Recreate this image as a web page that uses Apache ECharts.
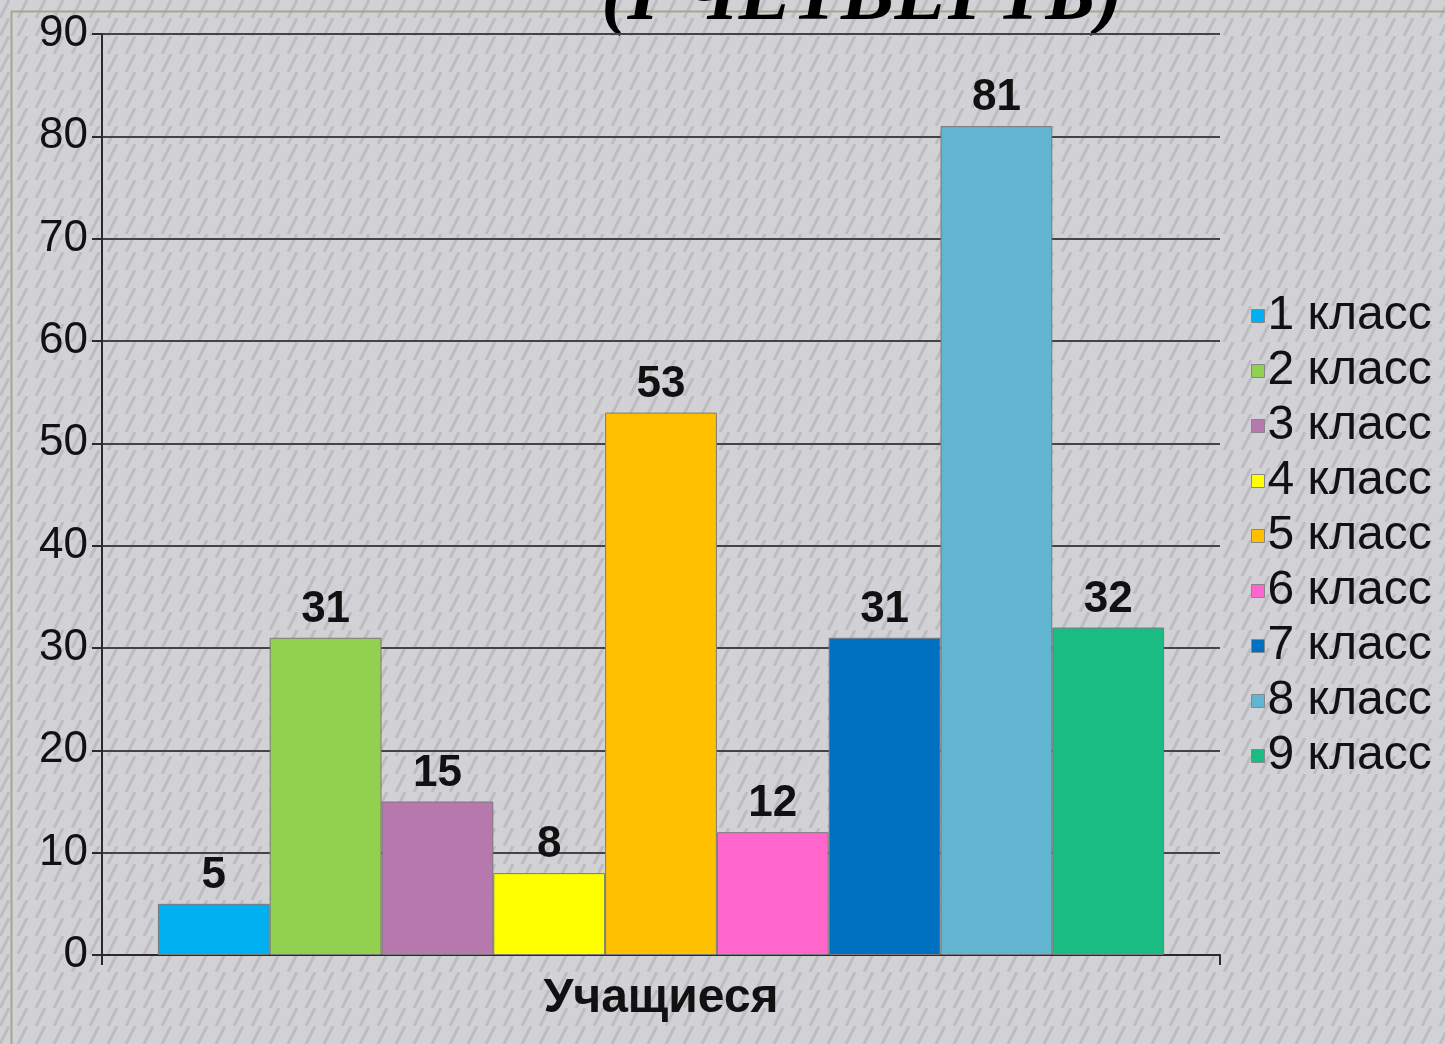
<!DOCTYPE html>
<html>
<head>
<meta charset="utf-8">
<title>Учащиеся</title>
<script src="https://cdn.jsdelivr.net/npm/echarts@6/dist/echarts.min.js"></script>
<style>
  html, body { margin: 0; padding: 0; }
  #chart { width: 1445px; height: 1044px; }
</style>
</head>
<body>
<div id="chart"></div>
<script>
var categories = ['Учащиеся'];
var classNames = ['1 класс', '2 класс', '3 класс', '4 класс', '5 класс', '6 класс', '7 класс', '8 класс', '9 класс'];
var classValues = [5, 31, 15, 8, 53, 12, 31, 81, 32];
var classColors = ['#00b0f0', '#92d050', '#b678ad', '#ffff00', '#ffc000', '#ff66cc', '#0070c0', '#62b5d0', '#1abc84'];
var yTicks = { min: 0, max: 90, interval: 10 };

// striped grey background
function stripes() {
  var c = document.createElement('canvas');
  c.width = 18; c.height = 18;
  var ctx = c.getContext('2d');
  ctx.fillStyle = '#d2d2d6';
  ctx.fillRect(0, 0, 18, 18);
  ctx.strokeStyle = '#bdbdc1';
  ctx.lineWidth = 3;
  for (var k = -18; k <= 36; k += 18) {
    ctx.beginPath();
    ctx.moveTo(k, 18);
    ctx.lineTo(k + 9, 0);
    ctx.stroke();
  }
  return c;
}

var series = classNames.map(function (name, i) {
  return {
    name: name,
    type: 'bar',
    barGap: 0,
    barCategoryGap: '10%',
    itemStyle: { color: classColors[i], borderColor: '#7a7a7a', borderWidth: 1 },
    label: {
      show: true, position: 'top', distance: 6,
      fontFamily: 'Liberation Sans', fontSize: 44, fontWeight: 'bold', color: '#111'
    },
    data: [classValues[i]]
  };
});

var chart = echarts.init(document.getElementById('chart'));
chart.setOption({
  backgroundColor: { image: stripes(), repeat: 'repeat' },
  animation: false,
  grid: { left: 102, right: 225, top: 34, bottom: 89 },
  legend: {
    orient: 'vertical', left: 1246, top: 287,
    itemWidth: 13, itemHeight: 13, itemGap: 7,
    icon: 'rect',
    itemStyle: { borderColor: '#888', borderWidth: 1 },
    textStyle: { fontFamily: 'Liberation Sans', fontSize: 48, color: '#111', padding: [0, 0, 0, -2] },
    data: classNames
  },
  xAxis: {
    type: 'category',
    data: categories,
    axisLine: { lineStyle: { color: '#2a2a2a', width: 2 } },
    axisTick: { show: true, length: 10, lineStyle: { color: '#2a2a2a', width: 2 } },
    axisLabel: { margin: 20, fontFamily: 'Liberation Sans', fontSize: 48, fontWeight: 'bold', color: '#111' }
  },
  yAxis: {
    type: 'value',
    min: yTicks.min, max: yTicks.max, interval: yTicks.interval,
    axisLine: { show: true, lineStyle: { color: '#2a2a2a', width: 2 } },
    axisTick: { show: true, length: 10, lineStyle: { color: '#2a2a2a', width: 2 } },
    axisLabel: { margin: 14, fontFamily: 'Liberation Sans', fontSize: 44, color: '#111' },
    splitLine: { lineStyle: { color: '#444', width: 2 } }
  },
  graphic: [{
    type: 'rect', left: 9, top: 9, z: -1,
    shape: { width: 1450, height: 1050 },
    style: { fill: 'none', stroke: '#aaa48c', lineWidth: 2 }
  }, {
    type: 'text', x: 862, y: -2,
    style: {
      text: '(I ЧЕТВЕРТЬ)',
      align: 'center', verticalAlign: 'middle',
      font: 'italic bold 80px "Liberation Serif"',
      fill: '#000'
    }
  }],
  series: series
});
</script>
</body>
</html>
